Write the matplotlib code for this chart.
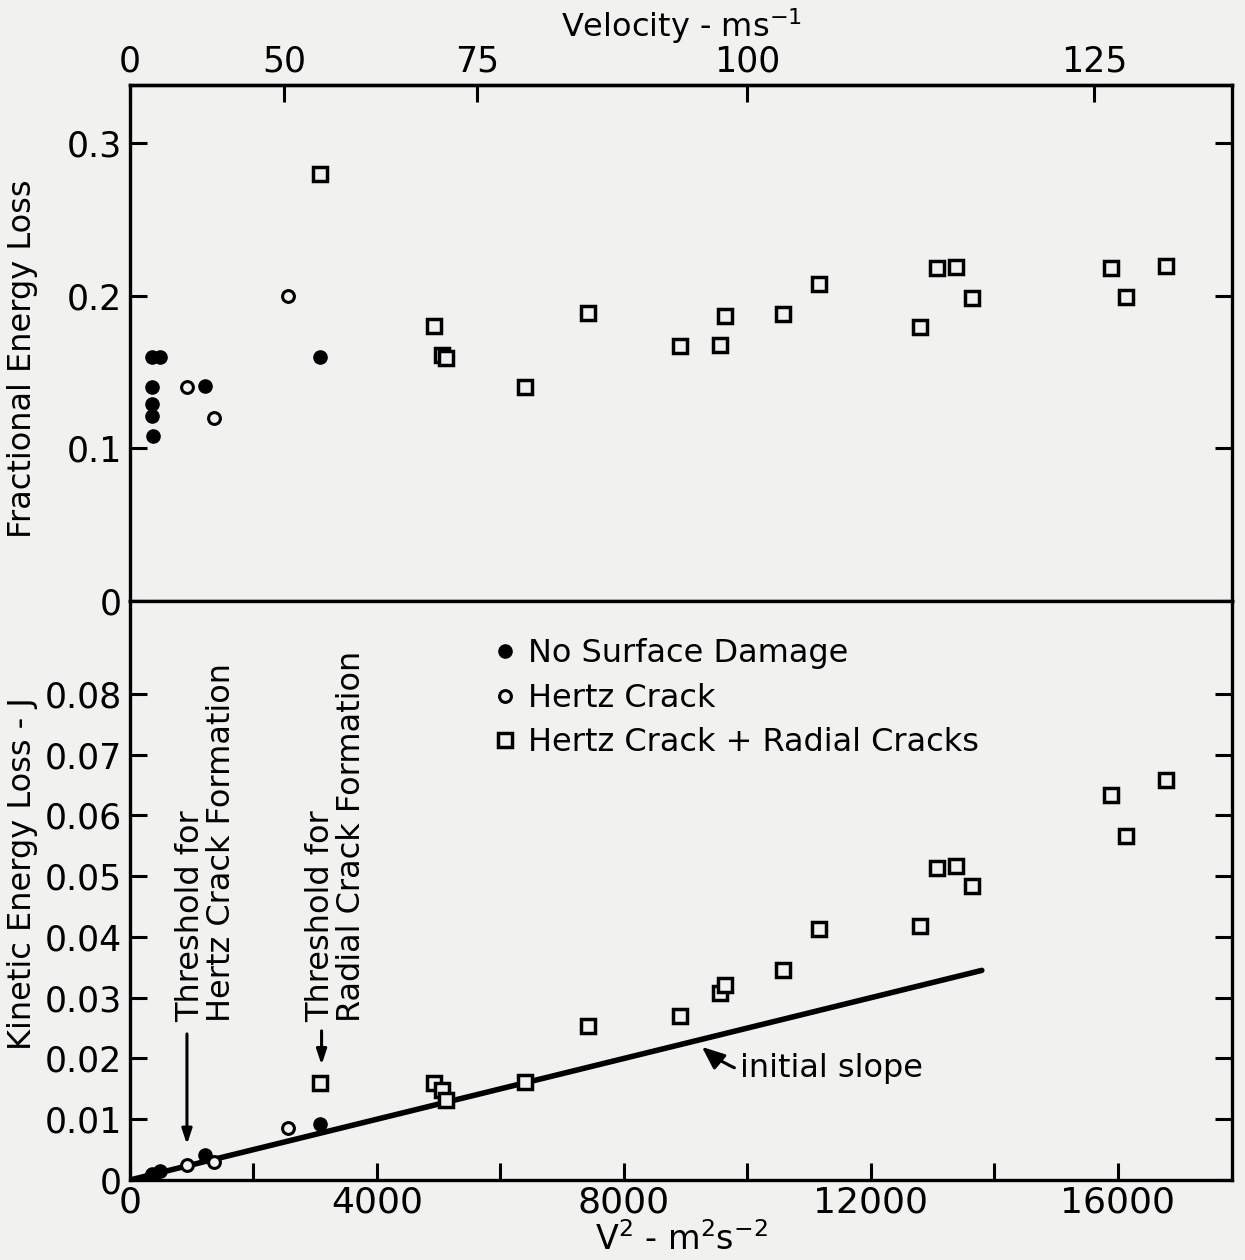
import numpy as np
import matplotlib
matplotlib.use("Agg")
import matplotlib.pyplot as plt

# ---------------- data ----------------
# No surface damage (filled circles)
nd_v2 = [351, 486, 351, 351, 351, 368, 1219, 3080]
nd_frac = [0.160, 0.160, 0.140, 0.129, 0.121, 0.108, 0.141, 0.160]
nd_ke = [0.0010, 0.0014, 0.0009, 0.0008, 0.0008, 0.0007, 0.0041, 0.0092]

# Hertz crack (open circles)
hz_v2 = [925, 1363, 2561]
hz_frac = [0.140, 0.120, 0.200]
hz_ke = [0.0025, 0.0030, 0.0086]

# Hertz crack + radial cracks (open squares)
sq_v2 = [3085, 4923, 5050, 5117, 6402, 7417, 8907, 9555, 9644, 10583,
         11160, 12793, 13082, 13382, 13646, 15892, 16130, 16791]
sq_frac = [0.280, 0.180, 0.161, 0.159, 0.1405, 0.189, 0.167, 0.168, 0.1864, 0.188,
           0.2077, 0.1795, 0.2182, 0.2188, 0.1985, 0.2182, 0.1989, 0.2192]
sq_ke = [0.0160, 0.0160, 0.0148, 0.0132, 0.0161, 0.0253, 0.0270, 0.0308, 0.0321, 0.0346,
         0.0413, 0.0418, 0.0514, 0.0517, 0.0484, 0.0634, 0.0566, 0.0658]

# initial slope line
slope_v2 = [0, 13800]
slope_ke = [0, 0.0345]

# ticks
x_ticks = [0, 2000, 4000, 6000, 8000, 10000, 12000, 14000, 16000]
x_ticklabels = ['0', '', '4000', '', '8000', '', '12000', '', '16000']
vel_ticks = [0, 50, 75, 100, 125]
vel_ticklabels = ['0', '50', '75', '100', '125']
top_yticks = [0, 0.1, 0.2, 0.3]
top_yticklabels = ['0', '0.1', '0.2', '0.3']
bot_yticks = [0, 0.01, 0.02, 0.03, 0.04, 0.05, 0.06, 0.07, 0.08]
bot_yticklabels = ['0', '0.01', '0.02', '0.03', '0.04', '0.05', '0.06', '0.07', '0.08']

legend_labels = ['No Surface Damage', 'Hertz Crack', 'Hertz Crack + Radial Cracks']

# ---------------- style ----------------
plt.rcParams['font.family'] = ['DejaVu Sans']
BG = '#f1f1f0'
FS = 23
TFS = 25
LW = 2.4

fig = plt.figure(figsize=(12.45, 12.6), dpi=100, facecolor=BG)
ax1 = fig.add_axes([0.1044, 0.523, 0.8855, 0.4095], facecolor=BG)
ax2 = fig.add_axes([0.1044, 0.0635, 0.8855, 0.4595], facecolor=BG)

XMAX = 17860

def mk(ax, x, y, kind):
    if kind == 'nd':
        return ax.plot(x, y, 'o', ms=9.5, mfc='black', mec='black', ls='none')[0]
    if kind == 'hz':
        return ax.plot(x, y, 'o', ms=8.5, mfc=BG, mec='black', mew=2.2, ls='none')[0]
    return ax.plot(x, y, 's', ms=10, mfc=BG, mec='black', mew=2.5, ls='none')[0]

# top panel
mk(ax1, nd_v2, nd_frac, 'nd')
mk(ax1, hz_v2, hz_frac, 'hz')
mk(ax1, sq_v2, sq_frac, 'sq')
ax1.set_xlim(0, XMAX)
ax1.set_ylim(0, 0.338)
ax1.set_yticks(top_yticks)
ax1.set_yticklabels(top_yticklabels)
ax1.set_xticks([])
ax1.set_ylabel('Fractional Energy Loss', fontsize=FS)
ax1.yaxis.set_label_coords(-0.083, 0.47)
ax1.tick_params(axis='y', which='both', direction='in', length=12, width=2.2,
                labelsize=TFS, right=True, pad=6)

sec = ax1.secondary_xaxis('top', functions=(lambda x: np.sqrt(np.clip(x, 0, None)),
                                           lambda v: np.asarray(v) ** 2))
sec.set_xticks(vel_ticks)
sec.set_xticklabels(vel_ticklabels)
sec.tick_params(direction='in', length=12, width=2.2, labelsize=TFS, pad=5)
sec.set_xlabel('Velocity - ms$^{-1}$', fontsize=FS, labelpad=5)
sec.spines['top'].set_linewidth(LW)

# bottom panel
ax2.plot(slope_v2, slope_ke, color='black', lw=4, solid_capstyle='round', zorder=2)
h1 = mk(ax2, nd_v2, nd_ke, 'nd')
h2 = mk(ax2, hz_v2, hz_ke, 'hz')
h3 = mk(ax2, sq_v2, sq_ke, 'sq')
ax2.set_xlim(0, XMAX)
ax2.set_ylim(0, 0.0953)
ax2.set_xticks(x_ticks)
ax2.set_xticklabels(x_ticklabels)
ax2.set_yticks(bot_yticks)
ax2.set_yticklabels(bot_yticklabels)
ax2.tick_params(axis='both', which='both', direction='in', length=12, width=2.2,
                labelsize=TFS, right=True, pad=6)
ax2.tick_params(axis='x', labelsize=26, pad=4)
ax2.set_xlabel('V$^2$ - m$^2$s$^{-2}$', fontsize=24, labelpad=2)
ax2.set_ylabel('Kinetic Energy Loss - J', fontsize=FS)
ax2.yaxis.set_label_coords(-0.083, 0.53)

for ax in (ax1, ax2):
    for s in ax.spines.values():
        s.set_linewidth(LW)

leg = ax2.legend([h1, h2, h3], legend_labels, loc='upper left',
                 bbox_to_anchor=(0.30, 0.985), frameon=False, fontsize=FS,
                 handletextpad=0.2, labelspacing=0.42, handlelength=1.0)

# threshold annotations
ax2.annotate('', xy=(923, 0.0054), xytext=(923, 0.0245),
             arrowprops=dict(arrowstyle='-|>,head_length=0.9,head_width=0.3', lw=2.2, color='black'))
ax2.text(1230, 0.0260, 'Threshold for\nHertz Crack Formation', rotation=90,
         ha='center', va='bottom', multialignment='left', fontsize=FS, linespacing=1.0)
ax2.annotate('', xy=(3104, 0.0185), xytext=(3104, 0.0250),
             arrowprops=dict(arrowstyle='-|>,head_length=0.9,head_width=0.3', lw=2.2, color='black'))
ax2.text(3336, 0.0260, 'Threshold for\nRadial Crack Formation', rotation=90,
         ha='center', va='bottom', multialignment='left', fontsize=FS, linespacing=1.0)

# initial slope label
ax2.annotate('initial slope', xy=(9231, 0.0222), xytext=(9878, 0.0184),
             fontsize=FS, va='center', ha='left',
             arrowprops=dict(arrowstyle='-|>,head_length=0.6,head_width=0.25', lw=2.2,
                             color='black', connectionstyle='arc3,rad=-0.3',
                             shrinkA=2, shrinkB=2))

fig.savefig('out.png', dpi=100, facecolor=BG)
